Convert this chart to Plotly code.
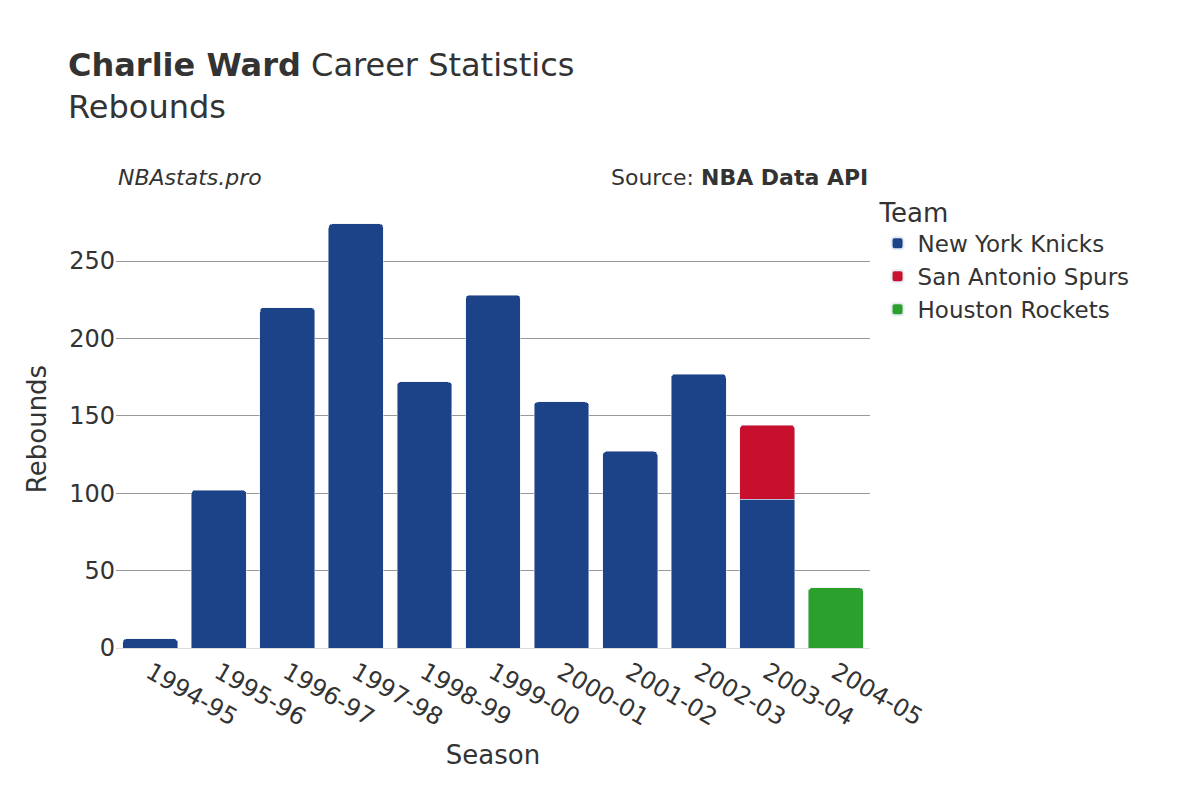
import plotly.graph_objects as go

seasons = ["1994-95", "1995-96", "1996-97", "1997-98", "1998-99", "1999-00",
           "2000-01", "2001-02", "2002-03", "2003-04", "2004-05"]

knicks_seasons = seasons[:10]
knicks_reb = [6, 102, 220, 274, 172, 228, 159, 127, 177, 96]
spurs_seasons = ["2003-04"]
spurs_reb = [48]
rockets_seasons = ["2004-05"]
rockets_reb = [39]

fig = go.Figure()
fig.add_bar(x=knicks_seasons, y=knicks_reb, name="New York Knicks", marker_color="#1c4288")
fig.add_bar(x=spurs_seasons, y=spurs_reb, name="San Antonio Spurs", marker_color="#c8102e")
fig.add_bar(x=rockets_seasons, y=rockets_reb, name="Houston Rockets", marker_color="#2ca02c")

fig.update_layout(
    barmode="stack",
    barcornerradius=4,
    width=1200, height=800,
    font=dict(family="DejaVu Sans", size=22, color="#333"),
    plot_bgcolor="white", paper_bgcolor="white",
    margin=dict(l=108, r=338, t=202, b=160),
    title=dict(text="<b>Charlie Ward</b> Career Statistics<br>Rebounds",
               x=0.05, y=0.915, xanchor="left", yanchor="top", font=dict(size=32)),
    legend=dict(title=dict(text="Team", font=dict(size=26)), x=1.01, y=1.05, yanchor="top",
                font=dict(size=23), traceorder="normal", itemsizing="constant"),
    bargap=0.2,
)
fig.update_xaxes(type="category", title=dict(text="Season", font=dict(size=26)), tickangle=30,
                 categoryorder="array", categoryarray=seasons, tickfont=dict(size=24),
                 showline=True, linecolor="#ddd")
fig.update_yaxes(title=dict(text="Rebounds", font=dict(size=26)), range=[0, 283],
                 gridcolor="#999", tickvals=[0, 50, 100, 150, 200, 250], zeroline=False,
                 tickfont=dict(size=24))
fig.add_annotation(text="<i>NBAstats.pro</i>", x=0, xref="paper", y=1.04, yref="paper",
                   xanchor="left", yanchor="bottom", showarrow=False, font=dict(size=22))
fig.add_annotation(text="Source: <b>NBA Data API</b>", x=1, xref="paper", y=1.04, yref="paper",
                   xanchor="right", yanchor="bottom", showarrow=False, font=dict(size=22))

fig.write_html("out.html")
